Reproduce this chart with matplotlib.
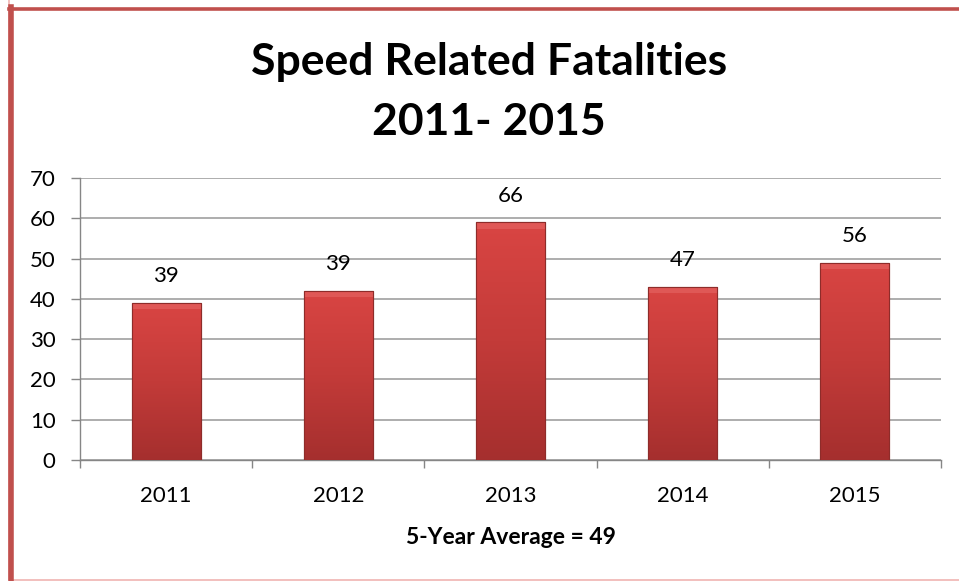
import matplotlib
matplotlib.use("Agg")
import matplotlib.pyplot as plt
import numpy as np
from matplotlib.patches import Rectangle
from matplotlib.colors import LinearSegmentedColormap

plt.rcParams['font.family'] = ['Lato', 'DejaVu Sans']

years = ["2011", "2012", "2013", "2014", "2015"]
bar_values = [39, 42, 59, 43, 49]
label_texts = ["39", "39", "66", "47", "56"]
title_lines = ["Speed Related Fatalities", "2011- 2015"]
xlabel_text = "5-Year Average = 49"
yticks = [0, 10, 20, 30, 40, 50, 60, 70]

fig = plt.figure(figsize=(9.59, 5.81), dpi=100)
fig.patch.set_facecolor("white")

# outer chart border
fig.add_artist(Rectangle((8.5/959, 1 - 580/581), 1.2, 1, transform=fig.transFigure,
                         fill=False, edgecolor="#F0B4B2", linewidth=1.2))
fig.add_artist(plt.Line2D([10.5/959, 10.5/959], [1 - 7/581, 1 - 580/581],
                          transform=fig.transFigure, color="#C0504D", linewidth=4.0))
fig.add_artist(plt.Line2D([8.5/959, 1.0], [1 - 8.5/581, 1 - 8.5/581],
                          transform=fig.transFigure, color="#C0504D", linewidth=2.6))

ax = fig.add_axes([80/959, 1 - 460/581, 861/959, 282/581])
x = np.arange(len(years))
bars = ax.bar(x, bar_values, width=0.4, color="#C83B39", edgecolor="#8E2C2A",
              linewidth=0.8, zorder=3)

cmap = LinearSegmentedColormap.from_list("r", ["#A52F2E", "#C33B39", "#D94543"])
grad = np.linspace(0, 1, 256).reshape(-1, 1)
for b in bars:
    x0, y0 = b.get_x(), b.get_y()
    w, h = b.get_width(), b.get_height()
    im = ax.imshow(grad, cmap=cmap, aspect="auto", extent=[x0, x0 + w, y0, y0 + h],
                   zorder=3.5, origin="lower", interpolation="bilinear")
    im.set_clip_path(b)
    ax.add_patch(Rectangle((x0, y0 + h - 1.6), w, 1.6, facecolor="#E76A67",
                           edgecolor="none", zorder=3.6, alpha=0.55))
    ax.add_patch(Rectangle((x0, y0), w, h, fill=False, edgecolor="#8E2C2A",
                           linewidth=0.8, zorder=3.7))

for xi, v, t in zip(x, bar_values, label_texts):
    ax.annotate(t, (xi, v), xytext=(0, 19), textcoords="offset points",
                ha="center", va="center", fontsize=16, color="black")

ax.set_xlim(-0.5, len(years) - 0.5)
ax.set_ylim(0, 70)
ax.set_yticks(yticks)
ax.set_yticklabels([str(v) for v in yticks])
ax.set_xticks(x)
ax.set_xticklabels(years)
ax.set_xticks(np.arange(-0.5, len(years), 1.0), minor=True)
ax.tick_params(axis="x", which="major", length=0, pad=19, labelsize=16)
ax.tick_params(axis="x", which="minor", length=6, width=1.0, color="#868686")
ax.tick_params(axis="y", which="major", length=6.5, width=1.0, color="#868686",
               pad=11, labelsize=16)
ax.yaxis.grid(True, color="#A0A0A0", linewidth=1.2, zorder=0)
ax.set_axisbelow(True)
for s in ["top", "right"]:
    ax.spines[s].set_visible(False)
for s in ["left", "bottom"]:
    ax.spines[s].set_color("#868686")
    ax.spines[s].set_linewidth(1.0)

fig.text(489/959, 1 - 62/581, title_lines[0], ha="center", va="center",
         fontsize=32, fontweight="bold")
fig.text(489/959, 1 - 122/581, title_lines[1], ha="center", va="center",
         fontsize=32, fontweight="bold")
fig.text(511/959, 1 - 537/581, xlabel_text, ha="center", va="center",
         fontsize=16.5, fontweight="bold")

fig.savefig("out.png", dpi=100)
